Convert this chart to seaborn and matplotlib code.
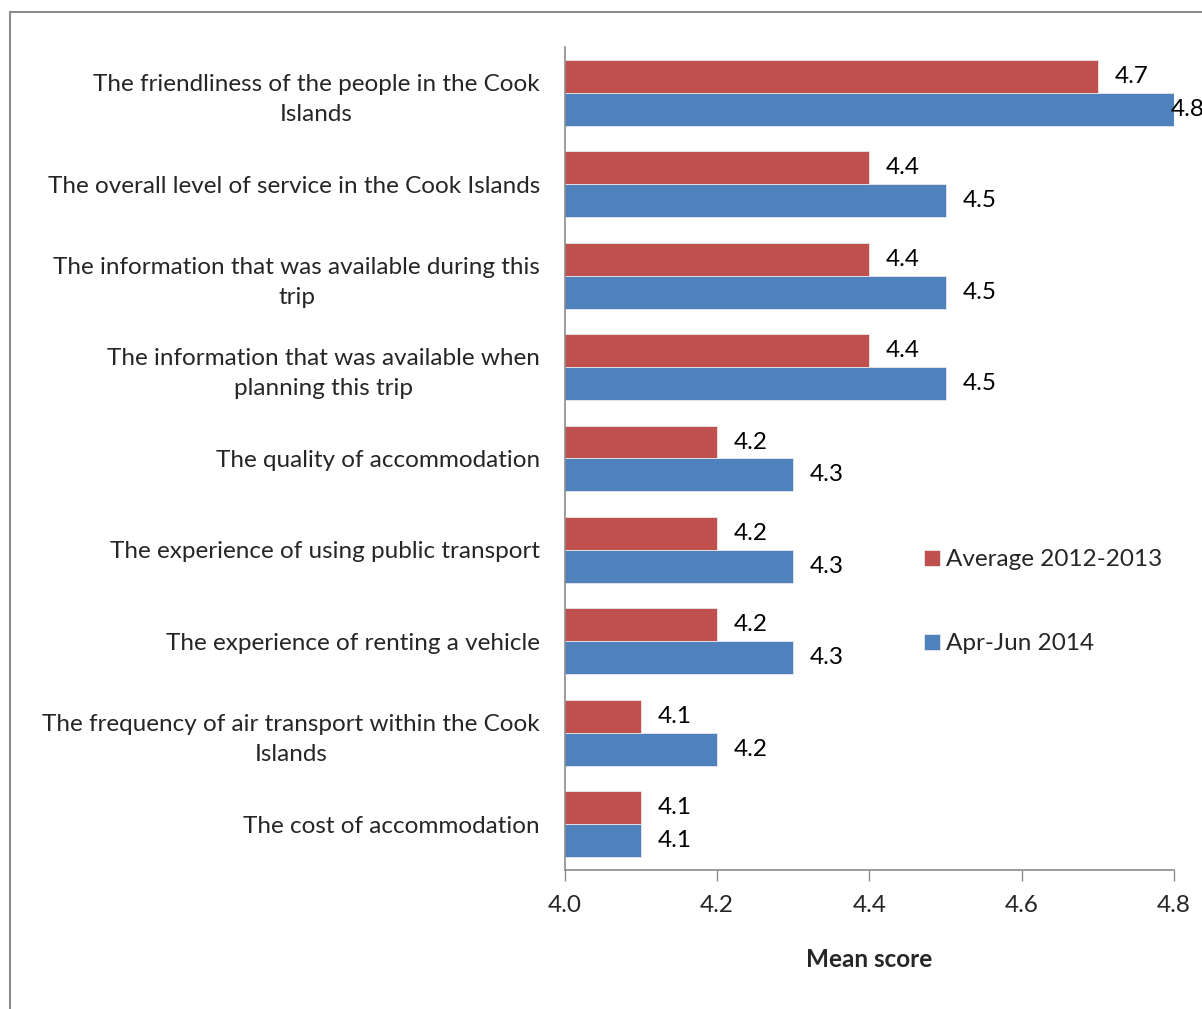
import matplotlib
matplotlib.use("Agg")
import matplotlib.pyplot as plt
import matplotlib.patches as mpatches
import seaborn as sns
import pandas as pd

# Satisfaction items (wrapped as shown on the axis)
items = [
    "The friendliness of the people in the Cook\nIslands",
    "The overall level of service in the Cook Islands",
    "The information that was available during this\ntrip",
    "The information that was available when\nplanning this trip",
    "The quality of accommodation",
    "The experience of using public transport",
    "The experience of renting a vehicle",
    "The frequency of air transport within the Cook\nIslands",
    "The cost of accommodation",
]
series_names = ["Average 2012-2013", "Apr-Jun 2014"]
avg_2012_2013 = [4.7, 4.4, 4.4, 4.4, 4.2, 4.2, 4.2, 4.1, 4.1]
apr_jun_2014 = [4.8, 4.5, 4.5, 4.5, 4.3, 4.3, 4.3, 4.2, 4.1]
x_ticks = [4.0, 4.2, 4.4, 4.6, 4.8]

df = pd.DataFrame({
    "item": items * 2,
    "series": [series_names[0]] * len(items) + [series_names[1]] * len(items),
    "score": avg_2012_2013 + apr_jun_2014,
})

sns.set_theme(style="white")
plt.rcParams["font.family"] = ["Lato", "DejaVu Sans"]
FS = 17.5

fig = plt.figure(figsize=(12.02, 10.09), dpi=100)
ax = fig.add_axes([0.470, 0.1378, 0.5067, 0.8156])

palette = {series_names[0]: "#C0504D", series_names[1]: "#4F81BD"}
sns.barplot(data=df, y="item", x="score", hue="series", orient="h",
            palette=palette, order=items, hue_order=series_names,
            width=0.72, ax=ax, saturation=1, linewidth=0.6,
            edgecolor="#e8e8e8", legend=True)

ax.set_xlim(4.0, 4.8)
ax.set_xticks(x_ticks)
ax.set_xticklabels([f"{v:.1f}" for v in x_ticks], fontsize=FS)
ax.set_ylim(len(items) - 0.5, -0.5)

xmax = ax.get_xlim()[1]
for cont in ax.containers:
    anns = ax.bar_label(cont, fmt="%.1f", padding=12, fontsize=FS,
                        color="black", clip_on=False)
    # a bar reaching the axis end gets its label pulled back onto it
    for bar, ann in zip(cont, anns):
        if bar.get_width() + bar.get_x() >= xmax - 1e-9:
            ann.xyann = (-2, 0)

ax.set_ylabel("")
ax.set_xlabel("Mean score", fontsize=FS, fontweight="bold", labelpad=23)
for lbl in ax.get_yticklabels():
    lbl.set_fontsize(FS)
    lbl.set_multialignment("center")
    lbl.set_linespacing(1.55)

for side in ["top", "right"]:
    ax.spines[side].set_visible(False)
for side in ["left", "bottom"]:
    ax.spines[side].set_color("#8c8c8c")
    ax.spines[side].set_linewidth(1.2)
ax.tick_params(axis="x", which="both", bottom=True, length=8, width=1.0,
               color="#8c8c8c", direction="out", pad=10)
ax.tick_params(axis="y", left=False, pad=12)

handles, labels = ax.get_legend_handles_labels()
ax.legend(handles, labels, loc="center left",
          bbox_to_anchor=(0.7605, 0.4035), bbox_transform=fig.transFigure,
          frameon=False, fontsize=FS, handlelength=0.65, handleheight=0.65,
          handletextpad=0.25, labelspacing=2.6, borderaxespad=0)

# Outer chart frame
frame = mpatches.Rectangle((10 / 1202, -0.05), 1.2, 1 - 12 / 1009 + 0.05,
                           transform=fig.transFigure, fill=False,
                           edgecolor="#8c8c8c", linewidth=1.5, clip_on=False)
fig.patches.append(frame)

fig.savefig("out.png", dpi=100)
